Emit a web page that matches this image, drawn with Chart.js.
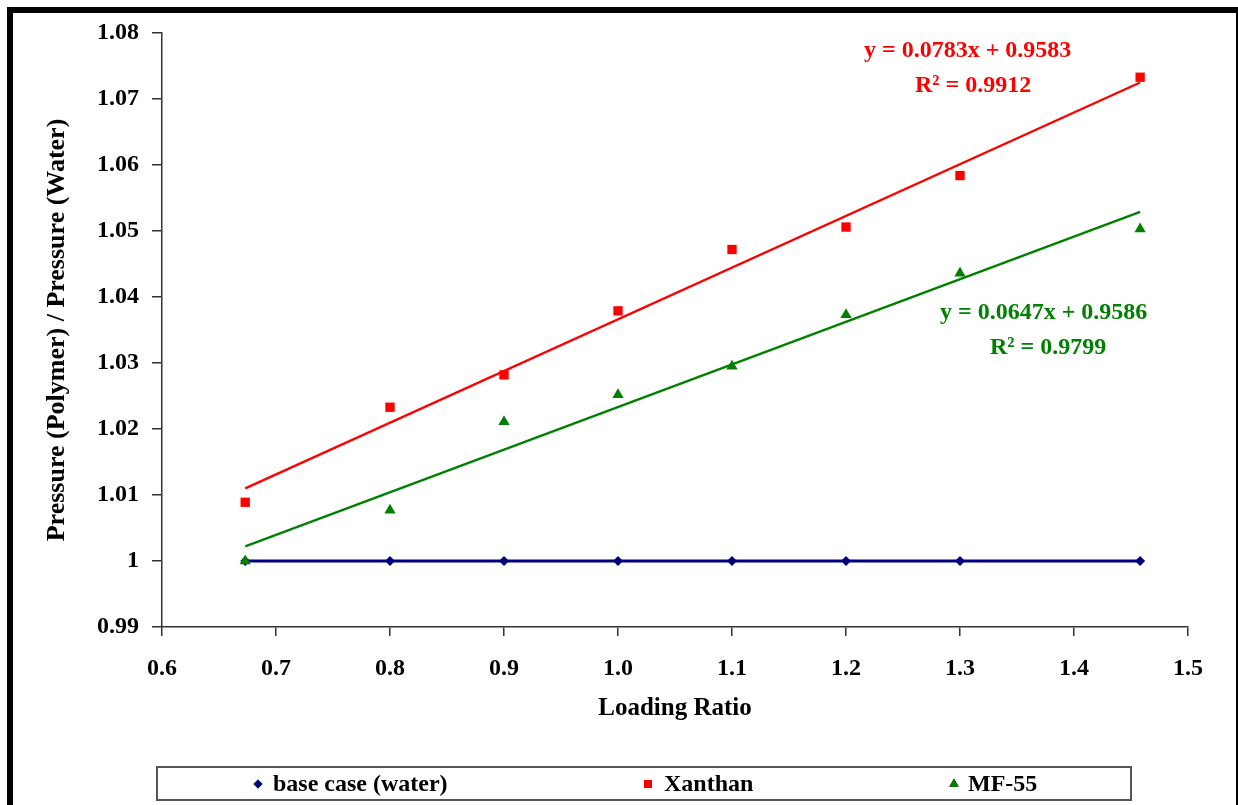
<!DOCTYPE html>
<html>
<head>
<meta charset="utf-8">
<script src="https://cdn.jsdelivr.net/npm/chart.js@4.4.1/dist/chart.umd.min.js"></script>
<style>
    html, body { margin: 0; padding: 0; background: #fff; }
    #wrap { position: relative; width: 1238px; height: 805px; }
</style>
</head>
<body>
<div id="wrap"><canvas id="chart" width="1238" height="805"></canvas></div>
<script>
// values
const loadingRatio = [0.673, 0.8, 0.9, 1.0, 1.1, 1.2, 1.3, 1.458];
const baseCase = [1, 1, 1, 1, 1, 1, 1, 1];
const xanthan = [1.0089, 1.0233, 1.0282, 1.0379, 1.0472, 1.0506, 1.0584, 1.0733];
const mf55 = [1.0000, 1.0077, 1.0211, 1.0252, 1.0295, 1.0373, 1.0436, 1.0503];

// linear trend lines, end points
const trendX = [0.673, 1.458];
const xanthanTrend = [1.0110, 1.0725];
const mf55Trend = [1.0022, 1.0529];

const seriesLabels = ['base case (water)', 'Xanthan', 'MF-55'];
const xanthanEquation = ['y = 0.0783x + 0.9583', 'R² = 0.9912'];
const mf55Equation = ['y = 0.0647x + 0.9586', 'R² = 0.9799'];

const FONT = '"Liberation Serif", "Times New Roman", serif';
const NAVY = '#000080';
const RED = '#ff0000';
const GREEN = '#008000';

const toPoints = (xs, ys) => xs.map((x, i) => ({ x, y: ys[i] }));

// frame, legend box and the trendline equations
const decorations = {
    id: 'decorations',
    beforeDraw(chart) {
        const ctx = chart.ctx;
        ctx.save();
        ctx.fillStyle = '#fff';
        ctx.fillRect(0, 0, chart.width, chart.height);
        ctx.fillStyle = '#000';
        ctx.fillRect(7, 7, 6, chart.height - 7);
        ctx.fillRect(7, 7, chart.width - 7, 6);
        ctx.fillRect(1236, 7, 2, chart.height - 7);
        ctx.restore();
    },
    afterDraw(chart) {
        const ctx = chart.ctx;
        ctx.save();

        ctx.font = `bold 24px ${FONT}`;
        ctx.textBaseline = 'middle';
        ctx.textAlign = 'left';
        ctx.fillStyle = RED;
        ctx.fillText(xanthanEquation[0], 864, 51);
        ctx.fillText(xanthanEquation[1], 915, 86);
        ctx.fillStyle = GREEN;
        ctx.fillText(mf55Equation[0], 940, 313);
        ctx.fillText(mf55Equation[1], 990, 348);

        // legend
        ctx.strokeStyle = '#555';
        ctx.lineWidth = 2;
        ctx.strokeRect(157, 767, 974, 33);

        const items = [
            { marker: 258, text: 273 },
            { marker: 648, text: 664 },
            { marker: 954, text: 968 },
        ];
        const cy = 784;
        chart.data.datasets.slice(0, 3).forEach((ds, i) => {
            const item = items[i];
            Chart.helpers.drawPoint(ctx, {
                pointStyle: ds.pointStyle,
                radius: ds.pointStyle === 'rectRot' ? 4.5 : 5.5,
                rotation: 0,
                borderWidth: 0,
            }, item.marker, cy);
            ctx.fillStyle = ds.pointBackgroundColor;
            ctx.fill();
            ctx.fillStyle = '#000';
            ctx.font = `bold 24px ${FONT}`;
            ctx.fillText(ds.label, item.text, cy + 1);
        });

        ctx.restore();
    },
};

const axisTicksY = (value) => String(Number(value.toFixed(2)));
const axisTicksX = (value) => value.toFixed(1);

new Chart(document.getElementById('chart'), {
    type: 'scatter',
    data: {
        datasets: [
            {
                label: seriesLabels[0],
                data: toPoints(loadingRatio, baseCase),
                showLine: true,
                borderColor: NAVY,
                borderWidth: 2.8,
                pointStyle: 'rectRot',
                pointRadius: 5,
                pointBackgroundColor: NAVY,
                pointBorderWidth: 0,
                order: 3,
            },
            {
                label: seriesLabels[1],
                data: toPoints(loadingRatio, xanthan),
                showLine: false,
                pointStyle: 'rect',
                pointRadius: 6.6,
                pointBackgroundColor: RED,
                pointBorderWidth: 0,
                order: 1,
            },
            {
                label: seriesLabels[2],
                data: toPoints(loadingRatio, mf55),
                showLine: false,
                pointStyle: 'triangle',
                pointRadius: 6.5,
                pointBackgroundColor: GREEN,
                pointBorderWidth: 0,
                order: 1,
            },
            {
                label: 'Xanthan trend',
                data: toPoints(trendX, xanthanTrend),
                showLine: true,
                borderColor: RED,
                borderWidth: 2.4,
                pointRadius: 0,
                order: 2,
            },
            {
                label: 'MF-55 trend',
                data: toPoints(trendX, mf55Trend),
                showLine: true,
                borderColor: GREEN,
                borderWidth: 2.4,
                pointRadius: 0,
                order: 2,
            },
        ],
    },
    options: {
        responsive: false,
        animation: false,
        layout: {
            padding: { left: 0, right: 50, top: 33, bottom: 78 },
        },
        plugins: {
            legend: { display: false },
            tooltip: { enabled: false },
        },
        scales: {
            x: {
                type: 'linear',
                min: 0.6,
                max: 1.5,
                afterFit: (scale) => { scale.height = 100; },
                ticks: {
                    stepSize: 0.1,
                    color: '#000',
                    padding: 18,
                    font: { family: FONT, size: 24, weight: 'bold' },
                    callback: axisTicksX,
                },
                grid: {
                    drawOnChartArea: false,
                    drawTicks: true,
                    tickLength: 9,
                    color: '#333',
                    lineWidth: 1.5,
                },
                border: { color: '#333', width: 1.5 },
                title: {
                    display: true,
                    text: 'Loading Ratio',
                    color: '#000',
                    padding: { top: 0, bottom: 3 },
                    font: { family: FONT, size: 25, weight: 'bold' },
                },
            },
            y: {
                min: 0.99,
                max: 1.08,
                afterFit: (scale) => { scale.width = 162; },
                ticks: {
                    stepSize: 0.01,
                    color: '#000',
                    padding: 13,
                    font: { family: FONT, size: 24, weight: 'bold' },
                    callback: axisTicksY,
                },
                grid: {
                    drawOnChartArea: false,
                    drawTicks: true,
                    tickLength: 10,
                    color: '#333',
                    lineWidth: 1.5,
                },
                border: { color: '#333', width: 1.5 },
                title: {
                    display: true,
                    text: 'Pressure (Polymer) / Pressure (Water)',
                    color: '#000',
                    padding: { top: 42, bottom: 0 },
                    font: { family: FONT, size: 26, weight: 'bold' },
                },
            },
        },
    },
    plugins: [decorations],
});
</script>
</body>
</html>
